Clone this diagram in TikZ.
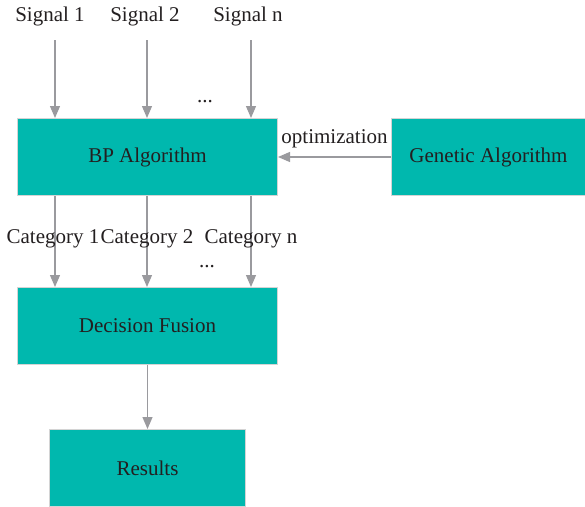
\documentclass[tikz,border=0pt]{standalone}
\usepackage{fontspec}
\setmainfont{Liberation Serif}
\usetikzlibrary{arrows.meta}
\definecolor{boxfill}{HTML}{00B8AE}
\definecolor{boxline}{HTML}{D4D4D4}
\definecolor{arrowc}{HTML}{9A9A9E}
\definecolor{txt}{HTML}{231F20}
\begin{document}
\begin{tikzpicture}[x=1pt,y=-1pt,
  box/.style={draw=boxline,line width=1pt,fill=boxfill,text=txt,font=\fontsize{21}{24}\selectfont,anchor=north west,inner sep=0pt},
  lbl/.style={text=txt,font=\fontsize{21}{24}\selectfont,inner sep=0pt},
  dots/.style={lbl,text height=3pt,text depth=0pt,anchor=base},
  arr/.style={draw=arrowc,line width=1.2pt,-{Triangle[width=10pt,length=12pt]}}]
\useasboundingbox (0,0) rectangle (585,506);
\node[box,minimum width=260pt,minimum height=77pt] (bp) at (17,118) {BP Algorithm};
\node[box,minimum width=194pt,minimum height=77pt] (ga) at (391,118) {Genetic Algorithm};
\node[box,minimum width=260pt,minimum height=77pt] (df) at (17,287) {Decision Fusion};
\node[box,minimum width=196pt,minimum height=77pt] (res) at (49,429) {Results};
\node[lbl] (s1) at (50,16) {Signal 1};
\node[lbl] (s2) at (145,16) {Signal 2};
\node[lbl] (sn) at (248,16) {Signal n};
\coordinate (a1) at (55,40);
\coordinate (a2) at (147,40);
\coordinate (an) at (251,40);
\draw[arr] (a1) -- (a1 |- bp.north);
\draw[arr] (a2) -- (a2 |- bp.north);
\draw[arr] (an) -- (an |- bp.north);
\node[dots] (d1) at (205,102) {...};
\draw[arr] (ga.west) -- (bp.east) node[lbl,midway,above=8pt] (opt) {optimization};
\draw[arr] (a1 |- bp.south) -- (a1 |- df.north);
\draw[arr] (a2 |- bp.south) -- (a2 |- df.north);
\draw[arr] (an |- bp.south) -- (an |- df.north);
\node[lbl] (c1) at (53,239) {Category 1};
\node[lbl] (c2) at (147,239) {Category 2};
\node[lbl] (cn) at (251,239) {Category n};
\node[dots] (d2) at (207,267) {...};
\draw[arr] (df.south) -- (res.north);
\end{tikzpicture}
\end{document}
